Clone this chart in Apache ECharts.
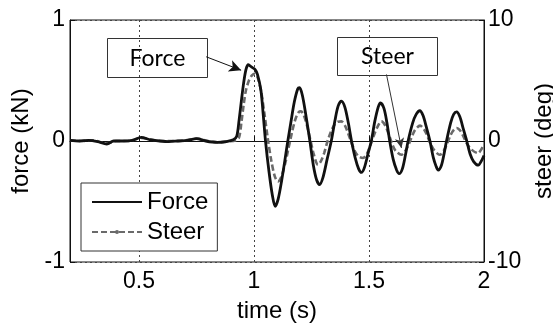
<!DOCTYPE html>
<html>
<head>
<meta charset="utf-8">
<script src="https://cdn.jsdelivr.net/npm/echarts@6/dist/echarts.min.js"></script>
<style>
  html, body { margin: 0; padding: 0; background: #fff; }
  #chart { width: 553px; height: 323px; }
</style>
</head>
<body>
<div id="chart"></div>
<script>
// Handlebar force (kN) and steer angle (deg) against time (s)
const forceTime = [
  0.20, 0.24, 0.28, 0.32, 0.36, 0.39, 0.43, 0.47, 0.51, 0.55, 0.59, 0.63, 0.67, 0.71, 0.75, 0.79,
  0.84, 0.88, 0.91, 0.925, 0.935, 0.945, 0.955, 0.965, 0.975, 0.99, 1.005, 1.015, 1.03, 1.04, 1.05,
  1.065, 1.08, 1.092, 1.105, 1.12, 1.135, 1.147, 1.16, 1.175, 1.19, 1.198, 1.21, 1.225, 1.243,
  1.258, 1.272, 1.285, 1.30, 1.318, 1.336, 1.352, 1.366, 1.38, 1.395, 1.41, 1.424, 1.44, 1.455,
  1.467, 1.48, 1.495, 1.51, 1.525, 1.54, 1.55, 1.565, 1.578, 1.59, 1.605, 1.62, 1.631, 1.645,
  1.658, 1.67, 1.69, 1.705, 1.721, 1.735, 1.75, 1.765, 1.78, 1.792, 1.801, 1.815, 1.827, 1.837,
  1.855, 1.868, 1.881, 1.895, 1.91, 1.925, 1.94, 1.955, 1.975, 1.99, 2.0
];
const forceKN = [
  0.005, 0.0, 0.005, -0.005, -0.025, 0.0, 0.0, 0.005, 0.03, 0.01, 0.0, -0.005, 0.0, 0.005, 0.02, 0.0,
  -0.012, -0.005, 0.01, 0.04, 0.17, 0.33, 0.48, 0.59, 0.63, 0.61, 0.59, 0.55, 0.42, 0.22, 0.0,
  -0.25, -0.45, -0.54, -0.48, -0.33, -0.15, 0.0, 0.15, 0.32, 0.43, 0.44, 0.38, 0.22, 0.0,
  -0.2, -0.32, -0.36, -0.3, -0.15, 0.0, 0.17, 0.29, 0.33, 0.28, 0.15, 0.0, -0.14, -0.23,
  -0.26, -0.22, -0.11, 0.0, 0.16, 0.28, 0.315, 0.27, 0.15, 0.0, -0.15, -0.24, -0.27, -0.23,
  -0.12, 0.0, 0.15, 0.22, 0.25, 0.21, 0.11, 0.0, -0.14, -0.21, -0.24, -0.2, -0.1, 0.0,
  0.15, 0.22, 0.24, 0.2, 0.1, 0.0, -0.11, -0.17, -0.2, -0.16, -0.12
];

const steerTime = [
  0.20, 0.25, 0.30, 0.36, 0.40, 0.45, 0.51, 0.56, 0.60, 0.65, 0.70, 0.75, 0.80, 0.84, 0.88, 0.92,
  0.935, 0.945, 0.955, 0.965, 0.978, 0.99, 1.004, 1.015, 1.03, 1.045, 1.06, 1.075, 1.09, 1.104,
  1.12, 1.135, 1.15, 1.165, 1.18, 1.195, 1.204, 1.215, 1.23, 1.245, 1.26, 1.278, 1.29, 1.305,
  1.32, 1.335, 1.35, 1.365, 1.38, 1.395, 1.41, 1.425, 1.44, 1.457, 1.474, 1.49, 1.505, 1.52,
  1.535, 1.554, 1.57, 1.585, 1.6, 1.615, 1.641, 1.655, 1.67, 1.685, 1.7, 1.722, 1.738, 1.752,
  1.767, 1.785, 1.808, 1.825, 1.84, 1.855, 1.868, 1.881, 1.895, 1.91, 1.925, 1.945, 1.974, 1.988, 2.0
];
const steerDeg = [
  0.05, 0.0, 0.05, -0.2, 0.0, 0.0, 0.25, 0.1, 0.0, 0.0, 0.05, 0.2, 0.0, -0.1, -0.05, 0.05,
  0.3, 1.5, 3.0, 4.2, 5.0, 5.4, 5.58, 5.3, 4.2, 2.3, 0.2, -1.6, -2.9, -3.35,
  -2.9, -1.9, -0.6, 0.7, 1.8, 2.4, 2.45, 2.2, 1.3, 0.1, -1.1, -1.96, -1.7, -1.0,
  0.0, 0.8, 1.35, 1.6, 1.62, 1.3, 0.6, -0.2, -0.9, -1.3, -1.41, -1.1, -0.4, 0.4,
  1.1, 1.62, 1.3, 0.6, -0.2, -0.8, -1.14, -0.9, -0.4, 0.3, 0.9, 1.27, 1.0, 0.5,
  -0.2, -0.8, -1.14, -0.8, -0.2, 0.5, 0.9, 1.08, 0.9, 0.4, -0.2, -0.7, -1.0, -0.7, -0.3
];

// Callout arrows: [time, value] from the label box to the curve
const forceCallout = [[0.792, 0.696], [0.944, 0.585]];
const steerCallout = [[1.576, 5.5], [1.641, -0.58]];

const zip = (xs, ys) => xs.map((x, i) => [x, ys[i]]);

const arial = "'Liberation Sans', Arial, Helvetica, sans-serif";
const dotted = { show: true, lineStyle: { color: '#444', width: 1, type: [2, 3] } };

const chart = echarts.init(document.getElementById('chart'), null, { renderer: 'canvas' });

chart.setOption({
  animation: false,
  backgroundColor: '#fff',
  grid: {
    left: 70, right: 69, top: 20, bottom: 61,
    outerBoundsMode: 'none', containLabel: false,
    show: true, borderColor: '#111', borderWidth: 1, backgroundColor: 'transparent'
  },
  xAxis: {
    type: 'value',
    min: 0.2, max: 2, splitNumber: 4,
    name: 'time (s)', nameLocation: 'middle', nameGap: 37,
    nameTextStyle: { fontFamily: arial, fontSize: 24, color: '#000' },
    axisLine: { lineStyle: { color: '#111' } },
    axisTick: { inside: true, length: 5, lineStyle: { color: '#111' } },
    axisLabel: { fontFamily: arial, fontSize: 23, color: '#000', margin: 8, showMinLabel: false },
    splitLine: dotted
  },
  yAxis: [
    {
      type: 'value', min: -1, max: 1, interval: 1, position: 'left',
      name: 'force (kN)', nameLocation: 'middle', nameGap: 36,
      nameTextStyle: { fontFamily: arial, fontSize: 24, color: '#000' },
      axisLine: { show: true, lineStyle: { color: '#111' } },
      axisTick: { show: true, inside: true, length: 5, lineStyle: { color: '#111' } },
      axisLabel: { fontFamily: arial, fontSize: 23, color: '#000', margin: 5 },
      splitLine: dotted
    },
    {
      type: 'value', min: -10, max: 10, interval: 10, position: 'right',
      name: 'steer (deg)', nameLocation: 'middle', nameGap: 40,
      nameTextStyle: { fontFamily: arial, fontSize: 24, color: '#000' },
      axisLine: { show: true, lineStyle: { color: '#111' } },
      axisTick: { show: true, inside: true, length: 5, lineStyle: { color: '#111' } },
      axisLabel: { fontFamily: arial, fontSize: 23, color: '#000', margin: 4 },
      splitLine: { show: false }
    }
  ],
  legend: {
    orient: 'vertical',
    left: 81, top: 183,
    padding: [7, 9, 7, 10],
    itemGap: 6,
    itemWidth: 50, itemHeight: 5,
    backgroundColor: '#fff',
    borderColor: '#333', borderWidth: 1,
    textStyle: { fontFamily: arial, fontSize: 24, color: '#000', lineHeight: 24 },
    data: [
      { name: 'Force', itemStyle: { opacity: 0 } },
      { name: 'Steer' }
    ]
  },
  series: [
    {
      name: 'Steer', type: 'line', yAxisIndex: 1,
      data: zip(steerTime, steerDeg),
      smooth: 0.3, symbol: 'circle', symbolSize: 4, showSymbol: false,
      itemStyle: { color: '#6a6a6a' },
      lineStyle: { color: '#6a6a6a', width: 2.6, type: [6, 3] },
      z: 2,
      markLine: {
        silent: true, symbol: ['none', 'arrow'], symbolSize: [7, 10],
        label: { show: false },
        lineStyle: { color: '#333', width: 1, type: 'solid' },
        data: [[{ coord: steerCallout[0] }, { coord: steerCallout[1] }]]
      }
    },
    {
      name: 'Force', type: 'line', yAxisIndex: 0,
      data: zip(forceTime, forceKN),
      smooth: 0.3, symbol: 'none',
      itemStyle: { color: '#111' },
      lineStyle: { color: '#111', width: 2.8 },
      z: 3,
      markLine: {
        silent: true, symbol: ['none', 'arrow'], symbolSize: [9, 12],
        label: { show: false },
        lineStyle: { color: '#111', width: 1, type: 'solid' },
        data: [[{ coord: forceCallout[0] }, { coord: forceCallout[1] }]]
      }
    }
  ],
  graphic: [
    {
      type: 'group', left: 107, top: 38, z: 10,
      children: [
        { type: 'rect', shape: { x: 0, y: 0, width: 100, height: 39 },
          style: { fill: '#fff', stroke: '#333', lineWidth: 1 } },
        { type: 'text', x: 50, y: 20,
          style: { text: 'Force', fontFamily: 'Lato, sans-serif', fontSize: 23, fill: '#000',
                   align: 'center', verticalAlign: 'middle' } }
      ]
    },
    {
      type: 'group', left: 337, top: 37, z: 10,
      children: [
        { type: 'rect', shape: { x: 0, y: 0, width: 100, height: 38 },
          style: { fill: '#fff', stroke: '#333', lineWidth: 1 } },
        { type: 'text', x: 50, y: 19,
          style: { text: 'Steer', fontFamily: 'Lato, sans-serif', fontSize: 23, fill: '#000',
                   align: 'center', verticalAlign: 'middle' } }
      ]
    }
  ]
});
</script>
</body>
</html>
